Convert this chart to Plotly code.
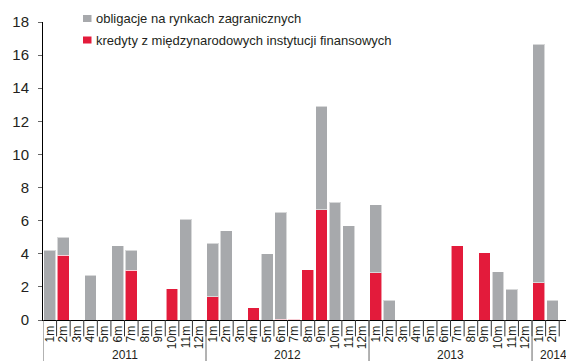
import plotly.graph_objects as go

# Monthly issuance, 2011-01 .. 2014-03
years = ["2011", "2012", "2013", "2014"]
months_per_year = [12, 12, 12, 3]
month_labels = [f"{m}m" for n in months_per_year for m in range(1, n + 1)]

kredyty = [
    0, 3.9, 0, 0, 0, 0, 3.0, 0, 0, 1.9, 0, 0,
    1.4, 0, 0, 0.75, 0, 0.05, 0.05, 3.05, 6.65, 0, 0, 0,
    2.85, 0, 0, 0, 0, 0, 4.5, 0, 4.05, 0, 0, 0,
    2.25, 0, 0,
]
obligacje = [
    4.2, 1.1, 0, 2.7, 0, 4.5, 1.2, 0, 0, 0, 6.1, 0,
    3.25, 5.4, 0, 0, 4.0, 6.45, 0, 0, 6.25, 7.1, 5.7, 0,
    4.1, 1.2, 0, 0, 0, 0, 0, 0, 0, 2.9, 1.85, 0,
    14.4, 1.2, 0,
]

name_obl = "obligacje na rynkach zagranicznych"
name_kred = "kredyty z międzynarodowych instytucji finansowych"

GRAY = "#A7A9AC"
RED = "#E31B3B"
EDGE = "rgba(255,255,255,0.55)"
FONT = "Arial, Liberation Sans, sans-serif"
TXT = "#231F20"

W, H = 566, 361
ML, MR, MT, MB = 43, 0, 22, 41
PW, PH = W - ML - MR, H - MT - MB

x = list(range(len(month_labels)))

fig = go.Figure()
fig.add_bar(x=x, y=kredyty, name=name_kred, showlegend=False,
            marker=dict(color=RED, line=dict(color=EDGE, width=1)))
fig.add_bar(x=x, y=obligacje, name=name_obl, showlegend=False,
            marker=dict(color=GRAY, line=dict(color=EDGE, width=1)))

shapes = []
# separators between month labels
for i in range(len(month_labels)):
    shapes.append(dict(type="line", xref="x", yref="paper",
                       x0=i + 0.5, x1=i + 0.5, y0=0, y1=-0.055,
                       line=dict(color="#333333", width=1)))
# separators between years
start = 0
for n in months_per_year:
    shapes.append(dict(type="line", xref="x", yref="paper",
                       x0=start - 0.5, x1=start - 0.5, y0=0, y1=-0.14,
                       line=dict(color="#666666", width=1)))
    start += n

annotations = []
start = 0
for yr, n in zip(years, months_per_year):
    cx = start + (n - 1) / 2 if n == 12 else start + 1.1
    annotations.append(dict(text=yr, x=cx, xref="x", y=-0.087, yref="paper",
                            yanchor="top", showarrow=False,
                            font=dict(family=FONT, size=12, color=TXT)))
    start += n


def px_x(p):
    return (p - ML) / PW


def px_y(p):
    return (H - MB - p) / PH


# legend: square swatch + label, one row per series
legend_rows = [(name_obl, GRAY, 18.5), (name_kred, RED, 40.0)]
for label, color, cy in legend_rows:
    shapes.append(dict(type="rect", xref="paper", yref="paper",
                       x0=px_x(83), x1=px_x(91.5),
                       y0=px_y(cy + 3.5), y1=px_y(cy - 3.5),
                       fillcolor=color, line=dict(width=0)))
    annotations.append(dict(text=label, x=px_x(93.5), y=px_y(cy),
                            xref="paper", yref="paper",
                            xanchor="left", yanchor="middle", showarrow=False,
                            font=dict(family=FONT, size=13, color=TXT)))

fig.update_layout(
    width=W, height=H,
    margin=dict(l=ML, r=MR, t=MT, b=MB),
    barmode="stack", bargap=0.13,
    plot_bgcolor="white", paper_bgcolor="white",
    font=dict(family=FONT, color=TXT),
    showlegend=False,
    xaxis=dict(range=[-0.5, 38.0], tickmode="array", tickvals=x,
               ticktext=month_labels, tickangle=-90, ticks="",
               tickfont=dict(family=FONT, size=12, color=TXT),
               showline=True, linecolor="#000000", linewidth=1,
               showgrid=False, zeroline=False, fixedrange=True),
    yaxis=dict(range=[0, 18], dtick=2, ticks="outside", ticklen=4,
               tickcolor="#666666", showline=True, linecolor="#000000",
               linewidth=1, showgrid=False, zeroline=False,
               tickfont=dict(family=FONT, size=15, color=TXT),
               ticklabelstandoff=6),
    shapes=shapes,
    annotations=annotations,
)

fig.write_html("out.html")
